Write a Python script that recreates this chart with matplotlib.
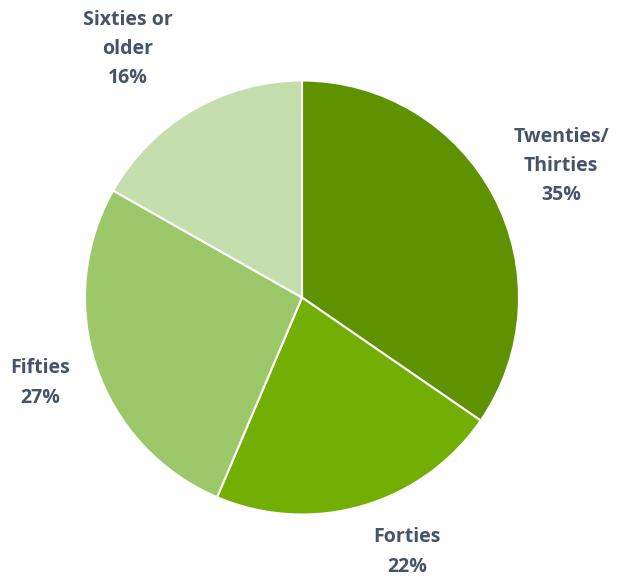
import matplotlib
matplotlib.use("Agg")
import matplotlib.pyplot as plt

categories = ["Twenties/\nThirties", "Forties", "Fifties", "Sixties or\nolder"]
values = [34.6, 21.8, 26.8, 16.8]
pct_labels = ["35%", "22%", "27%", "16%"]
colors = ["#5f9200", "#72ae03", "#9cc86a", "#c4deae"]

fig = plt.figure(figsize=(6.29, 5.80), dpi=100)
ax = fig.add_axes([0, 0, 1, 1])

ax.pie(values, colors=colors, startangle=90, counterclock=False,
       center=(302, 282.5), radius=217,
       wedgeprops=dict(edgecolor="white", linewidth=1.5))
ax.set_xlim(0, 629)
ax.set_ylim(0, 580)
ax.set_aspect("equal")
ax.axis("off")

label_pos = [(561, 414), (407, 28), (40, 197), (128, 531)]
for cat, p, (x, y) in zip(categories, pct_labels, label_pos):
    ax.text(x, y, f"{cat}\n{p}", ha="center", va="center",
            fontsize=14, fontweight="bold", color="#44546a",
            family=["Open Sans", "DejaVu Sans"], linespacing=1.62)

fig.savefig("out.png", dpi=100)
